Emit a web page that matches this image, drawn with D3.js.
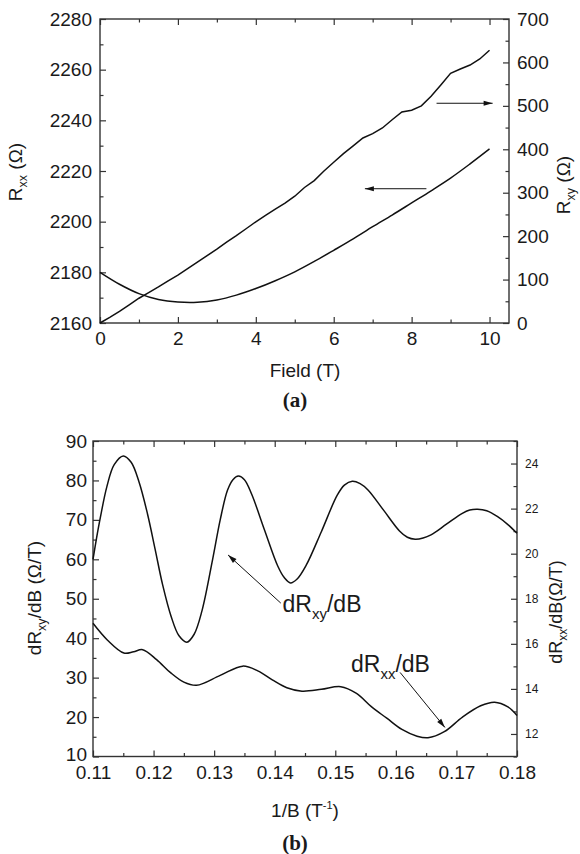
<!DOCTYPE html>
<html>
<head>
<meta charset="utf-8">
<script src="https://cdn.jsdelivr.net/npm/d3@7"></script>
<style>
  body { margin: 0; background: #fff; }
  text { font-family: "Liberation Sans", Arial, sans-serif; fill: #1a1a1a; }
  .frame { fill: none; stroke: #333; stroke-width: 1.4; }
  .tick line { stroke: #333; stroke-width: 1.2; }
  .curve { fill: none; stroke: #111; stroke-width: 1.5; }
</style>
</head>
<body>
<div id="chart"></div>
<script>
// panel (a): field sweep
const field = [0, 0.5, 1, 1.5, 2, 2.5, 3, 3.5, 4, 4.5, 5, 5.5, 6, 6.5, 7, 7.5, 8, 8.5, 9, 9.5, 10];
const rxx = [2180, 2175.3, 2171.6, 2169.3, 2168.3, 2168.2, 2169.1, 2171, 2173.6, 2176.7, 2180.2,
  2184.3, 2188.7, 2193.2, 2198, 2202.6, 2207.4, 2212.2, 2217.2, 2222.8, 2228.7];

const fieldXy = [0, 0.25, 0.5, 0.75, 1, 1.25, 1.5, 1.75, 2, 2.25, 2.5, 2.75, 3, 3.25, 3.5, 3.75, 4,
  4.25, 4.5, 4.75, 5, 5.25, 5.5, 5.75, 6, 6.25, 6.5, 6.75, 7, 7.25, 7.5, 7.75, 8, 8.25, 8.5, 8.75,
  9, 9.25, 9.5, 9.75, 10];
const rxy = [0, 13, 27, 42, 57, 70, 83, 97, 110, 125, 140, 155, 170, 186, 201, 217, 233,
  248, 262, 276, 292, 312, 328, 350, 370, 390, 408, 426, 436, 449, 468, 486, 490, 500, 522, 548,
  575, 585, 594, 608, 628];

// panel (b): derivatives vs 1/B
const invBxy = [0.110, 0.1106, 0.1112, 0.1123, 0.1135, 0.115, 0.1163, 0.1176, 0.119, 0.12025,
  0.1215, 0.1229, 0.1242, 0.1255, 0.1267, 0.128, 0.12975, 0.131, 0.1322, 0.1331, 0.134, 0.135,
  0.1362, 0.1383, 0.1405, 0.1416, 0.1426, 0.1437, 0.1452, 0.1477, 0.1503, 0.1515, 0.1528, 0.1541,
  0.1554, 0.158, 0.1606, 0.1619, 0.1632, 0.1645, 0.1658, 0.16835, 0.1709, 0.1722, 0.1735, 0.175,
  0.1768, 0.1785, 0.18];
const dRxy = [60, 65.5, 70.5, 78.5, 84, 86.2, 84.6, 79.6, 71.5, 62.6,
  53.5, 45.5, 40.6, 39, 41, 47, 60, 70, 77.5, 80.2, 81.1, 80.2,
  76.5, 67.5, 58.3, 55.3, 54, 55, 58.5, 67, 76.2, 78.8, 79.8, 79.2,
  77.6, 72.4, 67.2, 65.6, 65.1, 65.4, 66.2, 68.9, 71.6, 72.5, 72.7, 72.3,
  70.8, 68.8, 66.6];

const invBxx = [0.110, 0.1124, 0.1151, 0.1167, 0.1182, 0.1205, 0.1228, 0.125, 0.1271, 0.131,
  0.1347, 0.1372, 0.1396, 0.142, 0.1445, 0.1477, 0.1509, 0.1535, 0.156, 0.1585, 0.161, 0.1635,
  0.1653, 0.168, 0.171, 0.174, 0.1763, 0.1785, 0.18];
const dRxx = [16.91, 16.16, 15.59, 15.65, 15.74, 15.3, 14.72, 14.3, 14.16, 14.6,
  15.01, 14.8, 14.4, 14.05, 13.9, 13.98, 14.1, 13.8, 13.2, 12.7, 12.2, 11.9,
  11.83, 12.1, 12.75, 13.25, 13.41, 13.2, 12.82];

const width = 580;
const height = 854;
const tickFont = 19;

const svg = d3.select('#chart').append('svg')
  .attr('width', width)
  .attr('height', height);

// inward major + minor ticks on all four sides
function drawAxes(g, x, y, y2, box, opt) {
  const w = box.right - box.left;
  const h = box.bottom - box.top;

  const bottom = g.append('g').attr('transform', `translate(0,${box.bottom})`)
    .call(d3.axisBottom(x).tickValues(opt.xMajor).tickSize(-6).tickPadding(opt.xPad).tickFormat(opt.xFmt));
  bottom.selectAll('text').attr('font-size', tickFont);
  g.append('g').attr('transform', `translate(0,${box.bottom})`)
    .call(d3.axisBottom(x).tickValues(opt.xMinor).tickSize(-3.5).tickFormat(''));
  g.append('g').attr('transform', `translate(0,${box.top})`)
    .call(d3.axisTop(x).tickValues(opt.xMajor).tickSize(-6).tickFormat(''));
  g.append('g').attr('transform', `translate(0,${box.top})`)
    .call(d3.axisTop(x).tickValues(opt.xMinor).tickSize(-3.5).tickFormat(''));

  const left = g.append('g').attr('transform', `translate(${box.left},0)`)
    .call(d3.axisLeft(y).tickValues(opt.yMajor).tickSize(-6).tickPadding(opt.yPad).tickFormat(d3.format('d')));
  left.selectAll('text').attr('font-size', tickFont);
  g.append('g').attr('transform', `translate(${box.left},0)`)
    .call(d3.axisLeft(y).tickValues(opt.yMinor).tickSize(-3.5).tickFormat(''));

  const right = g.append('g').attr('transform', `translate(${box.right},0)`)
    .call(d3.axisRight(y2).tickValues(opt.y2Major).tickSize(-6).tickPadding(8).tickFormat(d3.format('d')));
  right.selectAll('text').attr('font-size', opt.y2Font);
  g.append('g').attr('transform', `translate(${box.right},0)`)
    .call(d3.axisRight(y2).tickValues(opt.y2Minor).tickSize(-3.5).tickFormat(''));

  g.selectAll('.domain').remove();
  g.append('rect').attr('class', 'frame')
    .attr('x', box.left).attr('y', box.top).attr('width', w).attr('height', h);
  return { bottom, left };
}

function arrowHead(g, x1, y1, x2, y2) {
  const a = Math.atan2(y2 - y1, x2 - x1);
  const len = 9, half = 2.6;
  const p = [
    [x2, y2],
    [x2 - len * Math.cos(a) + half * Math.sin(a), y2 - len * Math.sin(a) - half * Math.cos(a)],
    [x2 - len * Math.cos(a) - half * Math.sin(a), y2 - len * Math.sin(a) + half * Math.cos(a)]
  ];
  g.append('line').attr('x1', x1).attr('y1', y1).attr('x2', x2).attr('y2', y2)
    .attr('stroke', '#111').attr('stroke-width', 1);
  g.append('path').attr('d', 'M' + p.join('L') + 'Z').attr('fill', '#111');
}

function vLabel(g, x, y, parts, size) {
  const t = g.append('text')
    .attr('transform', `translate(${x},${y}) rotate(-90)`)
    .attr('text-anchor', 'middle')
    .attr('font-size', size);
  parts.forEach((p) => {
    if (p.sub) {
      t.append('tspan').attr('font-size', size * 0.66).attr('dy', size * 0.25).text(p.sub);
      t.append('tspan').attr('dy', -size * 0.25).text(p.rest);
    } else {
      t.append('tspan').text(p.rest);
    }
  });
  return t;
}

// ---------- panel (a)
const boxA = { left: 100, right: 509, top: 19, bottom: 323 };
const gA = svg.append('g');
const xA = d3.scaleLinear().domain([0, 10.5]).range([boxA.left, boxA.right]);
const yA = d3.scaleLinear().domain([2160, 2280]).range([boxA.bottom, boxA.top]);
const yA2 = d3.scaleLinear().domain([0, 700]).range([boxA.bottom, boxA.top]);

drawAxes(gA, xA, yA, yA2, boxA, {
  xMajor: d3.range(0, 11, 2), xMinor: d3.range(1, 11, 2), xPad: 9, xFmt: d3.format('d'),
  yMajor: d3.range(2160, 2281, 20), yMinor: d3.range(2170, 2280, 20), yPad: 8,
  y2Major: d3.range(0, 701, 100), y2Minor: d3.range(50, 700, 100), y2Font: tickFont
});

gA.append('path').attr('class', 'curve')
  .attr('d', d3.line().x((d, i) => xA(field[i])).y((d) => yA(d)).curve(d3.curveCatmullRom)(rxx));
gA.append('path').attr('class', 'curve').attr('stroke-width', 2)
  .attr('d', d3.line().x((d, i) => xA(fieldXy[i])).y((d) => yA2(d)).curve(d3.curveLinear)(rxy));

arrowHead(gA, xA(8.64), yA2(506), xA(10.08), yA2(506));
arrowHead(gA, xA(8.38), yA(2213), xA(6.8), yA(2213));

vLabel(gA, 22, 172, [{ rest: 'R' }, { sub: 'xx', rest: ' (Ω)' }], 19);
vLabel(gA, 570, 185, [{ rest: 'R' }, { sub: 'xy', rest: ' (Ω)' }], 19);

gA.append('text').attr('x', 305).attr('y', 377).attr('text-anchor', 'middle')
  .attr('font-size', 19).text('Field (T)');
gA.append('text').attr('x', 295).attr('y', 407).attr('text-anchor', 'middle')
  .attr('font-size', 21).attr('font-weight', 'bold')
  .style('font-family', '"Liberation Serif", "Times New Roman", serif').text('(a)');

// ---------- panel (b)
const boxB = { left: 93, right: 517, top: 441, bottom: 756.5 };
const gB = svg.append('g');
const xB = d3.scaleLinear().domain([0.11, 0.18]).range([boxB.left, boxB.right]);
const yB = d3.scaleLinear().domain([10, 90]).range([boxB.bottom, boxB.top]);
const yB2 = d3.scaleLinear().domain([11, 25]).range([boxB.bottom, boxB.top]);

const axB = drawAxes(gB, xB, yB, yB2, boxB, {
  xMajor: d3.range(0, 8).map((i) => 0.11 + i * 0.01), xMinor: d3.range(0, 7).map((i) => 0.115 + i * 0.01),
  xPad: 9.5, xFmt: d3.format('.2f'),
  yMajor: d3.range(10, 91, 10), yMinor: d3.range(15, 90, 10), yPad: 6,
  y2Major: d3.range(12, 25, 2), y2Minor: d3.range(11, 26, 2), y2Font: 12
});
// lowest left label sits a touch above the corner, as in the original
axB.left.selectAll('.tick text').filter((d) => d === 10).attr('dy', '0.2em');

gB.append('path').attr('class', 'curve')
  .attr('d', d3.line().x((d, i) => xB(invBxy[i])).y((d) => yB(d)).curve(d3.curveCatmullRom.alpha(0.5))(dRxy));
gB.append('path').attr('class', 'curve')
  .attr('d', d3.line().x((d, i) => xB(invBxx[i])).y((d) => yB2(d)).curve(d3.curveCatmullRom.alpha(0.5))(dRxx));

arrowHead(gB, xB(0.1410), yB(48.9), xB(0.1323), yB(61.1));
arrowHead(gB, xB(0.1607), yB2(14.73), xB(0.1681), yB2(12.29));

function inlineLabel(g, x, y, sub) {
  const t = g.append('text').attr('x', x).attr('y', y).attr('font-size', 23);
  t.append('tspan').text('dR');
  t.append('tspan').attr('font-size', 15).attr('dy', 7).text(sub);
  t.append('tspan').attr('dy', -7).text('/dB');
}
inlineLabel(gB, xB(0.1413), yB(46.6), 'xy');
inlineLabel(gB, xB(0.1526), yB2(14.73), 'xx');

vLabel(gB, 41, 598, [{ rest: 'dR' }, { sub: 'xy', rest: '/dB (Ω/T)' }], 19);
vLabel(gB, 562, 612, [{ rest: 'dR' }, { sub: 'xx', rest: '/dB(Ω/T)' }], 18);

const xl = gB.append('text').attr('x', 305).attr('y', 817).attr('text-anchor', 'middle').attr('font-size', 19);
xl.append('tspan').text('1/B (T');
xl.append('tspan').attr('font-size', 11).attr('dy', -8).text('-1');
xl.append('tspan').attr('dy', 8).text(')');
gB.append('text').attr('x', 295).attr('y', 850).attr('text-anchor', 'middle')
  .attr('font-size', 21).attr('font-weight', 'bold')
  .style('font-family', '"Liberation Serif", "Times New Roman", serif').text('(b)');
</script>
</body>
</html>
